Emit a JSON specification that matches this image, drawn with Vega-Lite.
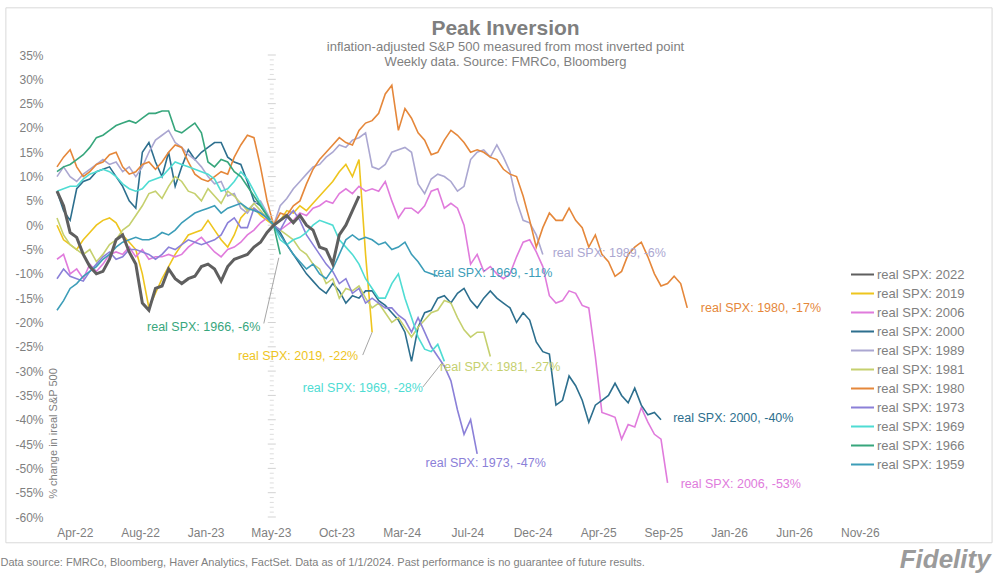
{
"$schema": "https://vega.github.io/schema/vega-lite/v6.json",
"width": 853, "height": 462,
"autosize": {"type": "none"},
"padding": {"left": 57, "top": 55, "right": 90, "bottom": 58},
"background": "white",
"config": {"view": {"stroke": null}, "font": "Liberation Sans"},
"title": {"text": "Peak Inversion", "subtitle": ["inflation-adjusted S&P 500 measured from most inverted point", "Weekly data.  Source: FMRCo, Bloomberg"], "anchor": "middle", "dx": 22, "offset": -61.5, "fontSize": 21, "fontWeight": "bold", "color": "#7F7F7F", "subtitleFontSize": 13, "subtitleColor": "#7F7F7F", "subtitlePadding": 2, "subtitleLineHeight": 15},
"datasets": {
"lines": [
{"s":"2022","d":"2022-02-25","v":7},{"s":"2022","d":"2022-03-11","v":4},{"s":"2022","d":"2022-03-25","v":-1.5},{"s":"2022","d":"2022-04-08","v":-2.5},{"s":"2022","d":"2022-04-22","v":-6},{"s":"2022","d":"2022-05-06","v":-8.5},{"s":"2022","d":"2022-05-20","v":-10},{"s":"2022","d":"2022-06-03","v":-9.5},{"s":"2022","d":"2022-06-17","v":-7},{"s":"2022","d":"2022-07-01","v":-3},{"s":"2022","d":"2022-07-15","v":-2},{"s":"2022","d":"2022-07-29","v":-5.5},{"s":"2022","d":"2022-08-12","v":-8},{"s":"2022","d":"2022-08-26","v":-16},{"s":"2022","d":"2022-09-09","v":-17.5},{"s":"2022","d":"2022-09-23","v":-13},{"s":"2022","d":"2022-10-07","v":-12.5},{"s":"2022","d":"2022-10-21","v":-9},{"s":"2022","d":"2022-11-04","v":-11},{"s":"2022","d":"2022-11-18","v":-12},{"s":"2022","d":"2022-12-02","v":-11},{"s":"2022","d":"2022-12-16","v":-10.5},{"s":"2022","d":"2022-12-30","v":-8.5},{"s":"2022","d":"2023-01-13","v":-8},{"s":"2022","d":"2023-01-27","v":-9},{"s":"2022","d":"2023-02-10","v":-11.5},{"s":"2022","d":"2023-02-24","v":-8.5},{"s":"2022","d":"2023-03-10","v":-7},{"s":"2022","d":"2023-03-24","v":-6.5},{"s":"2022","d":"2023-04-07","v":-6},{"s":"2022","d":"2023-04-21","v":-4.5},{"s":"2022","d":"2023-05-05","v":-3.5},{"s":"2022","d":"2023-05-19","v":-1.5},{"s":"2022","d":"2023-06-02","v":0},{"s":"2022","d":"2023-06-16","v":1},{"s":"2022","d":"2023-06-30","v":2},{"s":"2022","d":"2023-07-14","v":0.5},{"s":"2022","d":"2023-07-28","v":2},{"s":"2022","d":"2023-08-11","v":0},{"s":"2022","d":"2023-08-25","v":-1},{"s":"2022","d":"2023-09-08","v":-4.5},{"s":"2022","d":"2023-09-22","v":-5},{"s":"2022","d":"2023-10-06","v":-8},{"s":"2022","d":"2023-10-20","v":-2},{"s":"2022","d":"2023-11-03","v":0},{"s":"2022","d":"2023-11-17","v":3},{"s":"2022","d":"2023-12-01","v":6},
{"s":"2019","d":"2022-02-25","v":0},{"s":"2019","d":"2022-03-11","v":-3},{"s":"2019","d":"2022-03-25","v":-4},{"s":"2019","d":"2022-04-08","v":-5},{"s":"2019","d":"2022-04-22","v":-3},{"s":"2019","d":"2022-05-06","v":-1.5},{"s":"2019","d":"2022-05-20","v":0},{"s":"2019","d":"2022-06-03","v":1},{"s":"2019","d":"2022-06-17","v":1.5},{"s":"2019","d":"2022-07-01","v":0.5},{"s":"2019","d":"2022-07-15","v":-2},{"s":"2019","d":"2022-07-29","v":-3.5},{"s":"2019","d":"2022-08-12","v":-5},{"s":"2019","d":"2022-08-26","v":-10},{"s":"2019","d":"2022-09-09","v":-17},{"s":"2019","d":"2022-09-23","v":-14},{"s":"2019","d":"2022-10-07","v":-11},{"s":"2019","d":"2022-10-21","v":-8.5},{"s":"2019","d":"2022-11-04","v":-6},{"s":"2019","d":"2022-11-18","v":-4},{"s":"2019","d":"2022-12-02","v":-2},{"s":"2019","d":"2022-12-16","v":-1.5},{"s":"2019","d":"2022-12-30","v":-1},{"s":"2019","d":"2023-01-13","v":1},{"s":"2019","d":"2023-01-27","v":-1},{"s":"2019","d":"2023-02-10","v":-3},{"s":"2019","d":"2023-02-24","v":-4.5},{"s":"2019","d":"2023-03-10","v":-2},{"s":"2019","d":"2023-03-24","v":1.5},{"s":"2019","d":"2023-04-07","v":3},{"s":"2019","d":"2023-04-21","v":3.5},{"s":"2019","d":"2023-05-05","v":2},{"s":"2019","d":"2023-05-19","v":1},{"s":"2019","d":"2023-06-02","v":0},{"s":"2019","d":"2023-06-16","v":1},{"s":"2019","d":"2023-06-30","v":3},{"s":"2019","d":"2023-07-14","v":2.5},{"s":"2019","d":"2023-07-28","v":4},{"s":"2019","d":"2023-08-11","v":3},{"s":"2019","d":"2023-08-25","v":4.5},{"s":"2019","d":"2023-09-08","v":6},{"s":"2019","d":"2023-09-22","v":7.5},{"s":"2019","d":"2023-10-06","v":9},{"s":"2019","d":"2023-10-20","v":11},{"s":"2019","d":"2023-11-03","v":12.5},{"s":"2019","d":"2023-11-17","v":10},{"s":"2019","d":"2023-12-01","v":13.5},{"s":"2019","d":"2023-12-15","v":-6},{"s":"2019","d":"2023-12-29","v":-22},
{"s":"2006","d":"2022-02-25","v":-7},{"s":"2006","d":"2022-03-11","v":-6},{"s":"2006","d":"2022-03-25","v":-10},{"s":"2006","d":"2022-04-08","v":-9},{"s":"2006","d":"2022-04-22","v":-11},{"s":"2006","d":"2022-05-06","v":-8},{"s":"2006","d":"2022-05-20","v":-9.5},{"s":"2006","d":"2022-06-03","v":-8},{"s":"2006","d":"2022-06-17","v":-6},{"s":"2006","d":"2022-07-01","v":-5.5},{"s":"2006","d":"2022-07-15","v":-6},{"s":"2006","d":"2022-07-29","v":-4.5},{"s":"2006","d":"2022-08-12","v":-6.5},{"s":"2006","d":"2022-08-26","v":-5},{"s":"2006","d":"2022-09-09","v":-7},{"s":"2006","d":"2022-09-23","v":-6.5},{"s":"2006","d":"2022-10-07","v":-6.5},{"s":"2006","d":"2022-10-21","v":-6},{"s":"2006","d":"2022-11-04","v":-6.5},{"s":"2006","d":"2022-11-18","v":-6},{"s":"2006","d":"2022-12-02","v":-4.5},{"s":"2006","d":"2022-12-16","v":-3.5},{"s":"2006","d":"2022-12-30","v":-2.5},{"s":"2006","d":"2023-01-13","v":-4},{"s":"2006","d":"2023-01-27","v":-5.5},{"s":"2006","d":"2023-02-10","v":-6.5},{"s":"2006","d":"2023-02-24","v":-5},{"s":"2006","d":"2023-03-10","v":-4.5},{"s":"2006","d":"2023-03-24","v":-3.5},{"s":"2006","d":"2023-04-07","v":-2},{"s":"2006","d":"2023-04-21","v":-1},{"s":"2006","d":"2023-05-05","v":0.5},{"s":"2006","d":"2023-05-19","v":1.5},{"s":"2006","d":"2023-06-02","v":0},{"s":"2006","d":"2023-06-16","v":-1},{"s":"2006","d":"2023-06-30","v":0},{"s":"2006","d":"2023-07-14","v":1},{"s":"2006","d":"2023-07-28","v":2.5},{"s":"2006","d":"2023-08-11","v":2},{"s":"2006","d":"2023-08-25","v":3.5},{"s":"2006","d":"2023-09-08","v":4},{"s":"2006","d":"2023-09-22","v":5},{"s":"2006","d":"2023-10-06","v":4.5},{"s":"2006","d":"2023-10-20","v":6.5},{"s":"2006","d":"2023-11-03","v":7.5},{"s":"2006","d":"2023-11-17","v":6.5},{"s":"2006","d":"2023-12-01","v":8},{"s":"2006","d":"2023-12-15","v":7},{"s":"2006","d":"2023-12-29","v":7.5},{"s":"2006","d":"2024-01-12","v":7},{"s":"2006","d":"2024-01-26","v":9},{"s":"2006","d":"2024-02-09","v":5},{"s":"2006","d":"2024-02-23","v":1.5},{"s":"2006","d":"2024-03-08","v":3.5},{"s":"2006","d":"2024-03-22","v":3.5},{"s":"2006","d":"2024-04-05","v":2.5},{"s":"2006","d":"2024-04-19","v":4},{"s":"2006","d":"2024-05-03","v":7},{"s":"2006","d":"2024-05-17","v":7.5},{"s":"2006","d":"2024-05-31","v":3.5},{"s":"2006","d":"2024-06-14","v":4.5},{"s":"2006","d":"2024-06-28","v":3.5},{"s":"2006","d":"2024-07-12","v":0},{"s":"2006","d":"2024-07-26","v":-8},{"s":"2006","d":"2024-08-09","v":-6},{"s":"2006","d":"2024-08-23","v":-9.5},{"s":"2006","d":"2024-09-06","v":-8.5},{"s":"2006","d":"2024-09-20","v":-10},{"s":"2006","d":"2024-10-04","v":-11},{"s":"2006","d":"2024-10-18","v":-10},{"s":"2006","d":"2024-11-01","v":-6.5},{"s":"2006","d":"2024-11-15","v":-3.5},{"s":"2006","d":"2024-11-29","v":-3},{"s":"2006","d":"2024-12-13","v":-5.5},{"s":"2006","d":"2024-12-27","v":-8.5},{"s":"2006","d":"2025-01-10","v":-14.5},{"s":"2006","d":"2025-01-24","v":-16},{"s":"2006","d":"2025-02-07","v":-15.5},{"s":"2006","d":"2025-02-21","v":-13.5},{"s":"2006","d":"2025-03-07","v":-14},{"s":"2006","d":"2025-03-21","v":-16.5},{"s":"2006","d":"2025-04-04","v":-17},{"s":"2006","d":"2025-04-18","v":-27},{"s":"2006","d":"2025-05-02","v":-38.5},{"s":"2006","d":"2025-05-16","v":-39},{"s":"2006","d":"2025-05-30","v":-39.5},{"s":"2006","d":"2025-06-13","v":-44},{"s":"2006","d":"2025-06-27","v":-41},{"s":"2006","d":"2025-07-11","v":-41.5},{"s":"2006","d":"2025-07-25","v":-37.5},{"s":"2006","d":"2025-08-08","v":-40.5},{"s":"2006","d":"2025-08-22","v":-43},{"s":"2006","d":"2025-09-05","v":-44},{"s":"2006","d":"2025-09-19","v":-53},
{"s":"2000","d":"2022-02-25","v":7},{"s":"2000","d":"2022-03-11","v":3},{"s":"2000","d":"2022-03-25","v":1},{"s":"2000","d":"2022-04-08","v":7.5},{"s":"2000","d":"2022-04-22","v":9},{"s":"2000","d":"2022-05-06","v":9.5},{"s":"2000","d":"2022-05-20","v":11},{"s":"2000","d":"2022-06-03","v":11.5},{"s":"2000","d":"2022-06-17","v":12},{"s":"2000","d":"2022-07-01","v":10},{"s":"2000","d":"2022-07-15","v":8},{"s":"2000","d":"2022-07-29","v":5},{"s":"2000","d":"2022-08-12","v":3.5},{"s":"2000","d":"2022-08-26","v":15},{"s":"2000","d":"2022-09-09","v":17},{"s":"2000","d":"2022-09-23","v":13},{"s":"2000","d":"2022-10-07","v":10},{"s":"2000","d":"2022-10-21","v":15},{"s":"2000","d":"2022-11-04","v":8},{"s":"2000","d":"2022-11-18","v":12},{"s":"2000","d":"2022-12-02","v":15.5},{"s":"2000","d":"2022-12-16","v":13.5},{"s":"2000","d":"2022-12-30","v":15},{"s":"2000","d":"2023-01-13","v":16},{"s":"2000","d":"2023-01-27","v":17},{"s":"2000","d":"2023-02-10","v":17},{"s":"2000","d":"2023-02-24","v":14},{"s":"2000","d":"2023-03-10","v":13},{"s":"2000","d":"2023-03-24","v":12.5},{"s":"2000","d":"2023-04-07","v":9},{"s":"2000","d":"2023-04-21","v":5},{"s":"2000","d":"2023-05-05","v":4},{"s":"2000","d":"2023-05-19","v":2},{"s":"2000","d":"2023-06-02","v":0},{"s":"2000","d":"2023-06-16","v":-1.5},{"s":"2000","d":"2023-06-30","v":-4},{"s":"2000","d":"2023-07-14","v":-6},{"s":"2000","d":"2023-07-28","v":-8},{"s":"2000","d":"2023-08-11","v":-10},{"s":"2000","d":"2023-08-25","v":-11.5},{"s":"2000","d":"2023-09-08","v":-13},{"s":"2000","d":"2023-09-22","v":-14},{"s":"2000","d":"2023-10-06","v":-12},{"s":"2000","d":"2023-10-20","v":-13.5},{"s":"2000","d":"2023-11-03","v":-16},{"s":"2000","d":"2023-11-17","v":-14.5},{"s":"2000","d":"2023-12-01","v":-15},{"s":"2000","d":"2023-12-15","v":-13.5},{"s":"2000","d":"2023-12-29","v":-13.5},{"s":"2000","d":"2024-01-12","v":-15.5},{"s":"2000","d":"2024-01-26","v":-16.5},{"s":"2000","d":"2024-02-09","v":-18},{"s":"2000","d":"2024-02-23","v":-19.5},{"s":"2000","d":"2024-03-08","v":-22},{"s":"2000","d":"2024-03-22","v":-28},{"s":"2000","d":"2024-04-05","v":-21},{"s":"2000","d":"2024-04-19","v":-18},{"s":"2000","d":"2024-05-03","v":-17.5},{"s":"2000","d":"2024-05-17","v":-15},{"s":"2000","d":"2024-05-31","v":-14.5},{"s":"2000","d":"2024-06-14","v":-16},{"s":"2000","d":"2024-06-28","v":-14},{"s":"2000","d":"2024-07-12","v":-13},{"s":"2000","d":"2024-07-26","v":-15.5},{"s":"2000","d":"2024-08-09","v":-17},{"s":"2000","d":"2024-08-23","v":-15},{"s":"2000","d":"2024-09-06","v":-13.5},{"s":"2000","d":"2024-09-20","v":-15},{"s":"2000","d":"2024-10-04","v":-16},{"s":"2000","d":"2024-10-18","v":-17},{"s":"2000","d":"2024-11-01","v":-20},{"s":"2000","d":"2024-11-15","v":-18},{"s":"2000","d":"2024-11-29","v":-19.5},{"s":"2000","d":"2024-12-13","v":-24},{"s":"2000","d":"2024-12-27","v":-26},{"s":"2000","d":"2025-01-10","v":-26.5},{"s":"2000","d":"2025-01-24","v":-37},{"s":"2000","d":"2025-02-07","v":-36},{"s":"2000","d":"2025-02-21","v":-31},{"s":"2000","d":"2025-03-07","v":-33},{"s":"2000","d":"2025-03-21","v":-36},{"s":"2000","d":"2025-04-04","v":-40.5},{"s":"2000","d":"2025-04-18","v":-37},{"s":"2000","d":"2025-05-02","v":-36},{"s":"2000","d":"2025-05-16","v":-35},{"s":"2000","d":"2025-05-30","v":-32.5},{"s":"2000","d":"2025-06-13","v":-35},{"s":"2000","d":"2025-06-27","v":-36.5},{"s":"2000","d":"2025-07-11","v":-33.5},{"s":"2000","d":"2025-07-25","v":-37},{"s":"2000","d":"2025-08-08","v":-39},{"s":"2000","d":"2025-08-22","v":-38.5},{"s":"2000","d":"2025-09-05","v":-40},
{"s":"1989","d":"2022-02-25","v":10},{"s":"1989","d":"2022-03-11","v":12},{"s":"1989","d":"2022-03-25","v":10},{"s":"1989","d":"2022-04-08","v":9},{"s":"1989","d":"2022-04-22","v":10.5},{"s":"1989","d":"2022-05-06","v":11.5},{"s":"1989","d":"2022-05-20","v":12.5},{"s":"1989","d":"2022-06-03","v":13.5},{"s":"1989","d":"2022-06-17","v":12.5},{"s":"1989","d":"2022-07-01","v":13},{"s":"1989","d":"2022-07-15","v":11},{"s":"1989","d":"2022-07-29","v":12},{"s":"1989","d":"2022-08-12","v":10},{"s":"1989","d":"2022-08-26","v":12},{"s":"1989","d":"2022-09-09","v":15},{"s":"1989","d":"2022-09-23","v":17.5},{"s":"1989","d":"2022-10-07","v":18.5},{"s":"1989","d":"2022-10-21","v":19.5},{"s":"1989","d":"2022-11-04","v":17},{"s":"1989","d":"2022-11-18","v":16},{"s":"1989","d":"2022-12-02","v":14.5},{"s":"1989","d":"2022-12-16","v":13.5},{"s":"1989","d":"2022-12-30","v":12},{"s":"1989","d":"2023-01-13","v":10},{"s":"1989","d":"2023-01-27","v":8.5},{"s":"1989","d":"2023-02-10","v":9},{"s":"1989","d":"2023-02-24","v":6},{"s":"1989","d":"2023-03-10","v":6.5},{"s":"1989","d":"2023-03-24","v":3.5},{"s":"1989","d":"2023-04-07","v":2.5},{"s":"1989","d":"2023-04-21","v":4.5},{"s":"1989","d":"2023-05-05","v":5},{"s":"1989","d":"2023-05-19","v":2.5},{"s":"1989","d":"2023-06-02","v":0},{"s":"1989","d":"2023-06-16","v":4},{"s":"1989","d":"2023-06-30","v":5.5},{"s":"1989","d":"2023-07-14","v":7.5},{"s":"1989","d":"2023-07-28","v":9},{"s":"1989","d":"2023-08-11","v":10.5},{"s":"1989","d":"2023-08-25","v":12},{"s":"1989","d":"2023-09-08","v":12.5},{"s":"1989","d":"2023-09-22","v":14},{"s":"1989","d":"2023-10-06","v":15},{"s":"1989","d":"2023-10-20","v":16.5},{"s":"1989","d":"2023-11-03","v":16},{"s":"1989","d":"2023-11-17","v":17.5},{"s":"1989","d":"2023-12-01","v":18},{"s":"1989","d":"2023-12-15","v":19},{"s":"1989","d":"2023-12-29","v":12},{"s":"1989","d":"2024-01-12","v":11.5},{"s":"1989","d":"2024-01-26","v":12.5},{"s":"1989","d":"2024-02-09","v":15},{"s":"1989","d":"2024-02-23","v":15.5},{"s":"1989","d":"2024-03-08","v":16},{"s":"1989","d":"2024-03-22","v":15},{"s":"1989","d":"2024-04-05","v":8.5},{"s":"1989","d":"2024-04-19","v":6.5},{"s":"1989","d":"2024-05-03","v":9.5},{"s":"1989","d":"2024-05-17","v":10.5},{"s":"1989","d":"2024-05-31","v":10},{"s":"1989","d":"2024-06-14","v":9},{"s":"1989","d":"2024-06-28","v":7},{"s":"1989","d":"2024-07-12","v":8},{"s":"1989","d":"2024-07-26","v":13.5},{"s":"1989","d":"2024-08-09","v":15},{"s":"1989","d":"2024-08-23","v":15.5},{"s":"1989","d":"2024-09-06","v":14},{"s":"1989","d":"2024-09-20","v":16.5},{"s":"1989","d":"2024-10-04","v":14},{"s":"1989","d":"2024-10-18","v":11},{"s":"1989","d":"2024-11-01","v":5},{"s":"1989","d":"2024-11-15","v":1},{"s":"1989","d":"2024-11-29","v":0.5},{"s":"1989","d":"2024-12-13","v":-2},{"s":"1989","d":"2024-12-27","v":-6},
{"s":"1981","d":"2022-02-25","v":1.5},{"s":"1981","d":"2022-03-11","v":-2},{"s":"1981","d":"2022-03-25","v":-4},{"s":"1981","d":"2022-04-08","v":-5},{"s":"1981","d":"2022-04-22","v":-6},{"s":"1981","d":"2022-05-06","v":-5},{"s":"1981","d":"2022-05-20","v":-7.5},{"s":"1981","d":"2022-06-03","v":-6},{"s":"1981","d":"2022-06-17","v":-4},{"s":"1981","d":"2022-07-01","v":-3},{"s":"1981","d":"2022-07-15","v":-1},{"s":"1981","d":"2022-07-29","v":0},{"s":"1981","d":"2022-08-12","v":2},{"s":"1981","d":"2022-08-26","v":4},{"s":"1981","d":"2022-09-09","v":6.5},{"s":"1981","d":"2022-09-23","v":7},{"s":"1981","d":"2022-10-07","v":5.5},{"s":"1981","d":"2022-10-21","v":8},{"s":"1981","d":"2022-11-04","v":10},{"s":"1981","d":"2022-11-18","v":9},{"s":"1981","d":"2022-12-02","v":7},{"s":"1981","d":"2022-12-16","v":6.5},{"s":"1981","d":"2022-12-30","v":5},{"s":"1981","d":"2023-01-13","v":7.5},{"s":"1981","d":"2023-01-27","v":6},{"s":"1981","d":"2023-02-10","v":4.5},{"s":"1981","d":"2023-02-24","v":7},{"s":"1981","d":"2023-03-10","v":6},{"s":"1981","d":"2023-03-24","v":4.5},{"s":"1981","d":"2023-04-07","v":3},{"s":"1981","d":"2023-04-21","v":4.5},{"s":"1981","d":"2023-05-05","v":3},{"s":"1981","d":"2023-05-19","v":1.5},{"s":"1981","d":"2023-06-02","v":0},{"s":"1981","d":"2023-06-16","v":-1},{"s":"1981","d":"2023-06-30","v":-2},{"s":"1981","d":"2023-07-14","v":-3},{"s":"1981","d":"2023-07-28","v":-5},{"s":"1981","d":"2023-08-11","v":-6},{"s":"1981","d":"2023-08-25","v":-8},{"s":"1981","d":"2023-09-08","v":-9},{"s":"1981","d":"2023-09-22","v":-12},{"s":"1981","d":"2023-10-06","v":-11},{"s":"1981","d":"2023-10-20","v":-15},{"s":"1981","d":"2023-11-03","v":-13},{"s":"1981","d":"2023-11-17","v":-13.5},{"s":"1981","d":"2023-12-01","v":-12.5},{"s":"1981","d":"2023-12-15","v":-15},{"s":"1981","d":"2023-12-29","v":-17},{"s":"1981","d":"2024-01-12","v":-16},{"s":"1981","d":"2024-01-26","v":-18},{"s":"1981","d":"2024-02-09","v":-20},{"s":"1981","d":"2024-02-23","v":-19},{"s":"1981","d":"2024-03-08","v":-21},{"s":"1981","d":"2024-03-22","v":-23},{"s":"1981","d":"2024-04-05","v":-21},{"s":"1981","d":"2024-04-19","v":-19.5},{"s":"1981","d":"2024-05-03","v":-18},{"s":"1981","d":"2024-05-17","v":-17.5},{"s":"1981","d":"2024-05-31","v":-15.5},{"s":"1981","d":"2024-06-14","v":-16},{"s":"1981","d":"2024-06-28","v":-19},{"s":"1981","d":"2024-07-12","v":-21.5},{"s":"1981","d":"2024-07-26","v":-23},{"s":"1981","d":"2024-08-09","v":-22},{"s":"1981","d":"2024-08-23","v":-22},{"s":"1981","d":"2024-09-06","v":-27},
{"s":"1980","d":"2022-02-25","v":12},{"s":"1980","d":"2022-03-11","v":14},{"s":"1980","d":"2022-03-25","v":15.5},{"s":"1980","d":"2022-04-08","v":12},{"s":"1980","d":"2022-04-22","v":10},{"s":"1980","d":"2022-05-06","v":11},{"s":"1980","d":"2022-05-20","v":12.5},{"s":"1980","d":"2022-06-03","v":13},{"s":"1980","d":"2022-06-17","v":14.5},{"s":"1980","d":"2022-07-01","v":15},{"s":"1980","d":"2022-07-15","v":12},{"s":"1980","d":"2022-07-29","v":10.5},{"s":"1980","d":"2022-08-12","v":11},{"s":"1980","d":"2022-08-26","v":12.5},{"s":"1980","d":"2022-09-09","v":13},{"s":"1980","d":"2022-09-23","v":11.5},{"s":"1980","d":"2022-10-07","v":13},{"s":"1980","d":"2022-10-21","v":15},{"s":"1980","d":"2022-11-04","v":16.5},{"s":"1980","d":"2022-11-18","v":16},{"s":"1980","d":"2022-12-02","v":13},{"s":"1980","d":"2022-12-16","v":10.5},{"s":"1980","d":"2022-12-30","v":9.5},{"s":"1980","d":"2023-01-13","v":9},{"s":"1980","d":"2023-01-27","v":10},{"s":"1980","d":"2023-02-10","v":11},{"s":"1980","d":"2023-02-24","v":10.5},{"s":"1980","d":"2023-03-10","v":14},{"s":"1980","d":"2023-03-24","v":16.5},{"s":"1980","d":"2023-04-07","v":18.5},{"s":"1980","d":"2023-04-21","v":18},{"s":"1980","d":"2023-05-05","v":12},{"s":"1980","d":"2023-05-19","v":5},{"s":"1980","d":"2023-06-02","v":0},{"s":"1980","d":"2023-06-16","v":2.5},{"s":"1980","d":"2023-06-30","v":2},{"s":"1980","d":"2023-07-14","v":4},{"s":"1980","d":"2023-07-28","v":5},{"s":"1980","d":"2023-08-11","v":8.5},{"s":"1980","d":"2023-08-25","v":11.5},{"s":"1980","d":"2023-09-08","v":13.5},{"s":"1980","d":"2023-09-22","v":15},{"s":"1980","d":"2023-10-06","v":16.5},{"s":"1980","d":"2023-10-20","v":18},{"s":"1980","d":"2023-11-03","v":17},{"s":"1980","d":"2023-11-17","v":16.5},{"s":"1980","d":"2023-12-01","v":19.5},{"s":"1980","d":"2023-12-15","v":21},{"s":"1980","d":"2023-12-29","v":21.5},{"s":"1980","d":"2024-01-12","v":23},{"s":"1980","d":"2024-01-26","v":27},{"s":"1980","d":"2024-02-09","v":28.8},{"s":"1980","d":"2024-02-23","v":19.5},{"s":"1980","d":"2024-03-08","v":24},{"s":"1980","d":"2024-03-22","v":22},{"s":"1980","d":"2024-04-05","v":19},{"s":"1980","d":"2024-04-19","v":17.5},{"s":"1980","d":"2024-05-03","v":14.5},{"s":"1980","d":"2024-05-17","v":15},{"s":"1980","d":"2024-05-31","v":17.5},{"s":"1980","d":"2024-06-14","v":19.5},{"s":"1980","d":"2024-06-28","v":18.5},{"s":"1980","d":"2024-07-12","v":17},{"s":"1980","d":"2024-07-26","v":15},{"s":"1980","d":"2024-08-09","v":15.5},{"s":"1980","d":"2024-08-23","v":15},{"s":"1980","d":"2024-09-06","v":14},{"s":"1980","d":"2024-09-20","v":13.5},{"s":"1980","d":"2024-10-04","v":11.5},{"s":"1980","d":"2024-10-18","v":10.5},{"s":"1980","d":"2024-11-01","v":10},{"s":"1980","d":"2024-11-15","v":6},{"s":"1980","d":"2024-11-29","v":1},{"s":"1980","d":"2024-12-13","v":-4.5},{"s":"1980","d":"2024-12-27","v":-0.5},{"s":"1980","d":"2025-01-10","v":2.5},{"s":"1980","d":"2025-01-24","v":1},{"s":"1980","d":"2025-02-07","v":1},{"s":"1980","d":"2025-02-21","v":3.5},{"s":"1980","d":"2025-03-07","v":1},{"s":"1980","d":"2025-03-21","v":-0.5},{"s":"1980","d":"2025-04-04","v":-4.5},{"s":"1980","d":"2025-04-18","v":-2},{"s":"1980","d":"2025-05-02","v":-6},{"s":"1980","d":"2025-05-16","v":-7.5},{"s":"1980","d":"2025-05-30","v":-10.5},{"s":"1980","d":"2025-06-13","v":-9.5},{"s":"1980","d":"2025-06-27","v":-6},{"s":"1980","d":"2025-07-11","v":-4.5},{"s":"1980","d":"2025-07-25","v":-3.5},{"s":"1980","d":"2025-08-08","v":-6.5},{"s":"1980","d":"2025-08-22","v":-10},{"s":"1980","d":"2025-09-05","v":-12.5},{"s":"1980","d":"2025-09-19","v":-12},{"s":"1980","d":"2025-10-03","v":-10.5},{"s":"1980","d":"2025-10-17","v":-12},{"s":"1980","d":"2025-10-31","v":-17},
{"s":"1973","d":"2022-02-25","v":-11},{"s":"1973","d":"2022-03-11","v":-9},{"s":"1973","d":"2022-03-25","v":-10.5},{"s":"1973","d":"2022-04-08","v":-11},{"s":"1973","d":"2022-04-22","v":-11.5},{"s":"1973","d":"2022-05-06","v":-9.5},{"s":"1973","d":"2022-05-20","v":-8},{"s":"1973","d":"2022-06-03","v":-6.5},{"s":"1973","d":"2022-06-17","v":-5.5},{"s":"1973","d":"2022-07-01","v":-7},{"s":"1973","d":"2022-07-15","v":-6.5},{"s":"1973","d":"2022-07-29","v":-5},{"s":"1973","d":"2022-08-12","v":-5},{"s":"1973","d":"2022-08-26","v":-5.5},{"s":"1973","d":"2022-09-09","v":-6},{"s":"1973","d":"2022-09-23","v":-7},{"s":"1973","d":"2022-10-07","v":-6},{"s":"1973","d":"2022-10-21","v":-4.5},{"s":"1973","d":"2022-11-04","v":-5},{"s":"1973","d":"2022-11-18","v":-4},{"s":"1973","d":"2022-12-02","v":-3},{"s":"1973","d":"2022-12-16","v":-3.5},{"s":"1973","d":"2022-12-30","v":-4},{"s":"1973","d":"2023-01-13","v":-3.5},{"s":"1973","d":"2023-01-27","v":-3},{"s":"1973","d":"2023-02-10","v":-2},{"s":"1973","d":"2023-02-24","v":0.5},{"s":"1973","d":"2023-03-10","v":1.5},{"s":"1973","d":"2023-03-24","v":-0.5},{"s":"1973","d":"2023-04-07","v":-0.5},{"s":"1973","d":"2023-04-21","v":3.5},{"s":"1973","d":"2023-05-05","v":2.5},{"s":"1973","d":"2023-05-19","v":1.5},{"s":"1973","d":"2023-06-02","v":0},{"s":"1973","d":"2023-06-16","v":-1},{"s":"1973","d":"2023-06-30","v":1.5},{"s":"1973","d":"2023-07-14","v":3},{"s":"1973","d":"2023-07-28","v":1},{"s":"1973","d":"2023-08-11","v":-2},{"s":"1973","d":"2023-08-25","v":-4},{"s":"1973","d":"2023-09-08","v":-6},{"s":"1973","d":"2023-09-22","v":-8},{"s":"1973","d":"2023-10-06","v":-9.5},{"s":"1973","d":"2023-10-20","v":-12},{"s":"1973","d":"2023-11-03","v":-11},{"s":"1973","d":"2023-11-17","v":-14},{"s":"1973","d":"2023-12-01","v":-13},{"s":"1973","d":"2023-12-15","v":-16},{"s":"1973","d":"2023-12-29","v":-15},{"s":"1973","d":"2024-01-12","v":-16},{"s":"1973","d":"2024-01-26","v":-17},{"s":"1973","d":"2024-02-09","v":-17},{"s":"1973","d":"2024-02-23","v":-18.5},{"s":"1973","d":"2024-03-08","v":-19.5},{"s":"1973","d":"2024-03-22","v":-22},{"s":"1973","d":"2024-04-05","v":-19},{"s":"1973","d":"2024-04-19","v":-22},{"s":"1973","d":"2024-05-03","v":-25},{"s":"1973","d":"2024-05-17","v":-27},{"s":"1973","d":"2024-05-31","v":-29},{"s":"1973","d":"2024-06-14","v":-32},{"s":"1973","d":"2024-06-28","v":-38},{"s":"1973","d":"2024-07-12","v":-43},{"s":"1973","d":"2024-07-26","v":-40},{"s":"1973","d":"2024-08-09","v":-47},
{"s":"1969","d":"2022-02-25","v":7},{"s":"1969","d":"2022-03-11","v":7.5},{"s":"1969","d":"2022-03-25","v":8},{"s":"1969","d":"2022-04-08","v":8},{"s":"1969","d":"2022-04-22","v":9.5},{"s":"1969","d":"2022-05-06","v":10.5},{"s":"1969","d":"2022-05-20","v":11},{"s":"1969","d":"2022-06-03","v":11.5},{"s":"1969","d":"2022-06-17","v":11},{"s":"1969","d":"2022-07-01","v":10},{"s":"1969","d":"2022-07-15","v":8.5},{"s":"1969","d":"2022-07-29","v":7.5},{"s":"1969","d":"2022-08-12","v":7},{"s":"1969","d":"2022-08-26","v":7.5},{"s":"1969","d":"2022-09-09","v":9},{"s":"1969","d":"2022-09-23","v":9.5},{"s":"1969","d":"2022-10-07","v":10},{"s":"1969","d":"2022-10-21","v":11.5},{"s":"1969","d":"2022-11-04","v":13},{"s":"1969","d":"2022-11-18","v":12.5},{"s":"1969","d":"2022-12-02","v":12},{"s":"1969","d":"2022-12-16","v":11.5},{"s":"1969","d":"2022-12-30","v":11},{"s":"1969","d":"2023-01-13","v":10.5},{"s":"1969","d":"2023-01-27","v":9.5},{"s":"1969","d":"2023-02-10","v":7},{"s":"1969","d":"2023-02-24","v":7.5},{"s":"1969","d":"2023-03-10","v":9},{"s":"1969","d":"2023-03-24","v":11},{"s":"1969","d":"2023-04-07","v":9.5},{"s":"1969","d":"2023-04-21","v":7},{"s":"1969","d":"2023-05-05","v":4.5},{"s":"1969","d":"2023-05-19","v":2},{"s":"1969","d":"2023-06-02","v":0},{"s":"1969","d":"2023-06-16","v":-3},{"s":"1969","d":"2023-06-30","v":-4},{"s":"1969","d":"2023-07-14","v":-3},{"s":"1969","d":"2023-07-28","v":-2.5},{"s":"1969","d":"2023-08-11","v":-1.5},{"s":"1969","d":"2023-08-25","v":0},{"s":"1969","d":"2023-09-08","v":1},{"s":"1969","d":"2023-09-22","v":0.5},{"s":"1969","d":"2023-10-06","v":0},{"s":"1969","d":"2023-10-20","v":-3},{"s":"1969","d":"2023-11-03","v":-4.5},{"s":"1969","d":"2023-11-17","v":-6},{"s":"1969","d":"2023-12-01","v":-8},{"s":"1969","d":"2023-12-15","v":-11},{"s":"1969","d":"2023-12-29","v":-13},{"s":"1969","d":"2024-01-12","v":-15},{"s":"1969","d":"2024-01-26","v":-15},{"s":"1969","d":"2024-02-09","v":-12},{"s":"1969","d":"2024-02-23","v":-10},{"s":"1969","d":"2024-03-08","v":-15},{"s":"1969","d":"2024-03-22","v":-19},{"s":"1969","d":"2024-04-05","v":-23},{"s":"1969","d":"2024-04-19","v":-25.5},{"s":"1969","d":"2024-05-03","v":-26},{"s":"1969","d":"2024-05-17","v":-24.5},{"s":"1969","d":"2024-05-31","v":-28},
{"s":"1966","d":"2022-02-25","v":11},{"s":"1966","d":"2022-03-11","v":12},{"s":"1966","d":"2022-03-25","v":12.5},{"s":"1966","d":"2022-04-08","v":13.5},{"s":"1966","d":"2022-04-22","v":14.5},{"s":"1966","d":"2022-05-06","v":16},{"s":"1966","d":"2022-05-20","v":18},{"s":"1966","d":"2022-06-03","v":18.5},{"s":"1966","d":"2022-06-17","v":19.5},{"s":"1966","d":"2022-07-01","v":20.5},{"s":"1966","d":"2022-07-15","v":21},{"s":"1966","d":"2022-07-29","v":21.5},{"s":"1966","d":"2022-08-12","v":21},{"s":"1966","d":"2022-08-26","v":22},{"s":"1966","d":"2022-09-09","v":23},{"s":"1966","d":"2022-09-23","v":23},{"s":"1966","d":"2022-10-07","v":23.5},{"s":"1966","d":"2022-10-21","v":23.5},{"s":"1966","d":"2022-11-04","v":19.5},{"s":"1966","d":"2022-11-18","v":19},{"s":"1966","d":"2022-12-02","v":20},{"s":"1966","d":"2022-12-16","v":21},{"s":"1966","d":"2022-12-30","v":19},{"s":"1966","d":"2023-01-13","v":13},{"s":"1966","d":"2023-01-27","v":12},{"s":"1966","d":"2023-02-10","v":13.5},{"s":"1966","d":"2023-02-24","v":13},{"s":"1966","d":"2023-03-10","v":11},{"s":"1966","d":"2023-03-24","v":10},{"s":"1966","d":"2023-04-07","v":8},{"s":"1966","d":"2023-04-21","v":6},{"s":"1966","d":"2023-05-05","v":4},{"s":"1966","d":"2023-05-19","v":2},{"s":"1966","d":"2023-06-02","v":0},{"s":"1966","d":"2023-06-16","v":-6},
{"s":"1959","d":"2022-02-25","v":-17.5},{"s":"1959","d":"2022-03-11","v":-15.5},{"s":"1959","d":"2022-03-25","v":-13},{"s":"1959","d":"2022-04-08","v":-12},{"s":"1959","d":"2022-04-22","v":-10.5},{"s":"1959","d":"2022-05-06","v":-9.5},{"s":"1959","d":"2022-05-20","v":-8.5},{"s":"1959","d":"2022-06-03","v":-7},{"s":"1959","d":"2022-06-17","v":-6},{"s":"1959","d":"2022-07-01","v":-4.5},{"s":"1959","d":"2022-07-15","v":-3.5},{"s":"1959","d":"2022-07-29","v":-3},{"s":"1959","d":"2022-08-12","v":-2.5},{"s":"1959","d":"2022-08-26","v":-3},{"s":"1959","d":"2022-09-09","v":-3},{"s":"1959","d":"2022-09-23","v":-2.5},{"s":"1959","d":"2022-10-07","v":-1.5},{"s":"1959","d":"2022-10-21","v":-2},{"s":"1959","d":"2022-11-04","v":-1},{"s":"1959","d":"2022-11-18","v":0.5},{"s":"1959","d":"2022-12-02","v":1.5},{"s":"1959","d":"2022-12-16","v":2.5},{"s":"1959","d":"2022-12-30","v":3},{"s":"1959","d":"2023-01-13","v":3.5},{"s":"1959","d":"2023-01-27","v":4},{"s":"1959","d":"2023-02-10","v":2.5},{"s":"1959","d":"2023-02-24","v":3.5},{"s":"1959","d":"2023-03-10","v":4},{"s":"1959","d":"2023-03-24","v":4.5},{"s":"1959","d":"2023-04-07","v":3.5},{"s":"1959","d":"2023-04-21","v":3},{"s":"1959","d":"2023-05-05","v":2.5},{"s":"1959","d":"2023-05-19","v":1.5},{"s":"1959","d":"2023-06-02","v":0},{"s":"1959","d":"2023-06-16","v":-2},{"s":"1959","d":"2023-06-30","v":-4},{"s":"1959","d":"2023-07-14","v":-6},{"s":"1959","d":"2023-07-28","v":-7.5},{"s":"1959","d":"2023-08-11","v":-9},{"s":"1959","d":"2023-08-25","v":-8},{"s":"1959","d":"2023-09-08","v":-10},{"s":"1959","d":"2023-09-22","v":-11},{"s":"1959","d":"2023-10-06","v":-9},{"s":"1959","d":"2023-10-20","v":-6},{"s":"1959","d":"2023-11-03","v":-3},{"s":"1959","d":"2023-11-17","v":-2},{"s":"1959","d":"2023-12-01","v":-3},{"s":"1959","d":"2023-12-15","v":-2.5},{"s":"1959","d":"2023-12-29","v":-3},{"s":"1959","d":"2024-01-12","v":-4},{"s":"1959","d":"2024-01-26","v":-3.5},{"s":"1959","d":"2024-02-09","v":-5},{"s":"1959","d":"2024-02-23","v":-4.5},{"s":"1959","d":"2024-03-08","v":-3.5},{"s":"1959","d":"2024-03-22","v":-6},{"s":"1959","d":"2024-04-05","v":-7.5},{"s":"1959","d":"2024-04-19","v":-9.5},{"s":"1959","d":"2024-05-03","v":-10},{"s":"1959","d":"2024-05-17","v":-10.5}
],
"labels": [
{"s":"1966","t":"real SPX: 1966, -6%","d":"2022-09-05","v":-20.9},
{"s":"2019","t":"real SPX: 2019, -22%","d":"2023-03-18","v":-26.9},
{"s":"1969","t":"real SPX: 1969, -28%","d":"2023-08-03","v":-33.5},
{"s":"1981","t":"real SPX: 1981, -27%","d":"2024-05-22","v":-29.2},
{"s":"1973","t":"real SPX: 1973, -47%","d":"2024-04-21","v":-48.8},
{"s":"1959","t":"real SPX: 1969, -11%","d":"2024-05-07","v":-9.8},
{"s":"1989","t":"real SPX: 1989, -6%","d":"2025-01-17","v":-5.7},
{"s":"1980","t":"real SPX: 1980, -17%","d":"2025-11-29","v":-17.1},
{"s":"2000","t":"real SPX: 2000, -40%","d":"2025-10-01","v":-39.7},
{"s":"2006","t":"real SPX: 2006, -53%","d":"2025-10-17","v":-53.2}
],
"leaders": [
{"d":"2023-05-12","v":-20.2,"d2":"2023-06-13","v2":-6.7},
{"d":"2023-12-09","v":-26.7,"d2":"2023-12-29","v2":-22},
{"d":"2024-04-15","v":-33.3,"d2":"2024-05-26","v2":-28.3}
],
"ticks": [{"v":-60},{"v":-55},{"v":-50},{"v":-45},{"v":-40},{"v":-35},{"v":-30},{"v":-25},{"v":-20},{"v":-15},{"v":-10},{"v":-5},{"v":0},{"v":5},{"v":10},{"v":15},{"v":20},{"v":25},{"v":30},{"v":35}],
"minor": [{"v":-59},{"v":-58},{"v":-57},{"v":-56},{"v":-54},{"v":-53},{"v":-52},{"v":-51},{"v":-49},{"v":-48},{"v":-47},{"v":-46},{"v":-44},{"v":-43},{"v":-42},{"v":-41},{"v":-39},{"v":-38},{"v":-37},{"v":-36},{"v":-34},{"v":-33},{"v":-32},{"v":-31},{"v":-29},{"v":-28},{"v":-27},{"v":-26},{"v":-24},{"v":-23},{"v":-22},{"v":-21},{"v":-19},{"v":-18},{"v":-17},{"v":-16},{"v":-14},{"v":-13},{"v":-12},{"v":-11},{"v":-9},{"v":-8},{"v":-7},{"v":-6},{"v":-4},{"v":-3},{"v":-2},{"v":-1},{"v":1},{"v":2},{"v":3},{"v":4},{"v":6},{"v":7},{"v":8},{"v":9},{"v":11},{"v":12},{"v":13},{"v":14},{"v":16},{"v":17},{"v":18},{"v":19},{"v":21},{"v":22},{"v":23},{"v":24},{"v":26},{"v":27},{"v":28},{"v":29},{"v":31},{"v":32},{"v":33},{"v":34}]
},
"layer": [
{"data": {"name": "lines"},
 "transform": [{"filter": "datum.s != '2022'"}],
 "mark": {"type": "line", "strokeWidth": 1.6},
 "encoding": {
   "x": {"field": "d", "type": "temporal",
     "scale": {"type": "utc", "domain": [{"year": 2022, "month": 2, "date": 25, "utc": true}, {"year": 2027, "month": 2, "date": 18, "utc": true}]},
     "axis": {"values": [{"year":2022,"month":4,"date":4,"utc":true},{"year":2022,"month":8,"date":21,"utc":true},{"year":2023,"month":1,"date":8,"utc":true},{"year":2023,"month":5,"date":27,"utc":true},{"year":2023,"month":10,"date":14,"utc":true},{"year":2024,"month":3,"date":1,"utc":true},{"year":2024,"month":7,"date":19,"utc":true},{"year":2024,"month":12,"date":5,"utc":true},{"year":2025,"month":4,"date":24,"utc":true},{"year":2025,"month":9,"date":10,"utc":true},{"year":2026,"month":1,"date":28,"utc":true},{"year":2026,"month":6,"date":16,"utc":true},{"year":2026,"month":11,"date":3,"utc":true}],
       "format": "%b-%y", "labelFontSize": 12, "labelColor": "#7F7F7F", "domain": false, "ticks": false, "grid": false, "labelPadding": 10, "labelFlush": false, "labelOverlap": false,
       "title": "Data source: FMRCo, Bloomberg, Haver Analytics, FactSet. Data as of 1/1/2024. Past performance is no guarantee of future results.", "titleX": -57, "titleY": 45, "titleAlign": "left", "titleBaseline": "middle", "titleFontSize": 11, "titleFontWeight": "normal", "titleColor": "#7F7F7F"}},
   "y": {"field": "v", "type": "quantitative",
     "scale": {"domain": [-60, 35], "nice": false, "zero": false},
     "axis": {"values": [-60,-55,-50,-45,-40,-35,-30,-25,-20,-15,-10,-5,0,5,10,15,20,25,30,35], "tickCount": 20, "labelExpr": "datum.value + '%'", "labelOverlap": false, "labelBound": false, "domain": false, "ticks": false, "grid": false, "labelPadding": 14, "labelFontSize": 12, "labelColor": "#7F7F7F", "title": "% change in ireal S&P 500", "titleX": -4, "titleY": 378, "titleAngle": -90, "titleAlign": "center", "titleBaseline": "middle", "titleFontSize": 11, "titleFontWeight": "normal", "titleColor": "#7F7F7F"}},
   "color": {"field": "s", "type": "nominal",
     "scale": {"domain": ["2022","2019","2006","2000","1989","1981","1980","1973","1969","1966","1959"], "range": ["#5F5F5F","#EEC51E","#E07BDC","#2D6F8E","#ABA7D1","#C5D06E","#E5873A","#8B80D8","#4FDCD3","#37A67C","#3C9DB8"]},
     "legend": {"orient": "none", "legendX": 793, "legendY": 210, "title": null, "padding": 0, "symbolType": "stroke", "symbolSize": 529, "symbolStrokeWidth": 2, "labelFontSize": 13, "labelColor": "#7F7F7F", "labelOffset": 2, "rowPadding": 0, "clipHeight": 19, "labelExpr": "'real SPX: ' + datum.label"}}}},
{"mark": {"type": "rule", "color": "#BFBFBF", "strokeDash": [5, 4], "strokeWidth": 1},
 "encoding": {"y": {"datum": 0, "type": "quantitative"}}},
{"mark": {"type": "rule", "color": "#BFBFBF", "strokeWidth": 1},
 "encoding": {"x": {"datum": {"year": 2023, "month": 5, "date": 29, "utc": true}, "type": "temporal"}}},
{"data": {"name": "ticks"},
 "mark": {"type": "tick", "orient": "horizontal", "size": 8, "thickness": 1, "color": "#BFBFBF"},
 "encoding": {"x": {"datum": {"year": 2023, "month": 5, "date": 29, "utc": true}, "type": "temporal"}, "y": {"field": "v", "type": "quantitative"}}},
{"data": {"name": "minor"},
 "mark": {"type": "tick", "orient": "horizontal", "size": 4, "thickness": 1, "color": "#CFCFCF"},
 "encoding": {"x": {"datum": {"year": 2023, "month": 5, "date": 29, "utc": true}, "type": "temporal"}, "y": {"field": "v", "type": "quantitative"}}},
{"data": {"name": "lines"},
 "transform": [{"filter": "datum.s == '2022'"}],
 "mark": {"type": "line", "strokeWidth": 3},
 "encoding": {"x": {"field": "d", "type": "temporal"}, "y": {"field": "v", "type": "quantitative"}, "color": {"field": "s", "type": "nominal"}}},
{"data": {"name": "leaders"},
 "mark": {"type": "rule", "color": "#A6A6A6", "strokeWidth": 1},
 "encoding": {"x": {"field": "d", "type": "temporal"}, "x2": {"field": "d2"}, "y": {"field": "v", "type": "quantitative"}, "y2": {"field": "v2"}}},
{"data": {"name": "labels"},
 "mark": {"type": "text", "align": "left", "baseline": "middle", "fontSize": 12.5},
 "encoding": {"x": {"field": "d", "type": "temporal"}, "y": {"field": "v", "type": "quantitative"}, "text": {"field": "t"}, "color": {"field": "s", "type": "nominal"}}},
{"data": {"values": [{}]},
 "mark": {"type": "text", "fontSize": 26, "fontStyle": "italic", "fontWeight": "bold", "color": "#9B9B9B", "clip": false},
 "encoding": {"x": {"datum": {"year": 2027, "month": 5, "date": 4, "utc": true}, "type": "temporal"}, "y": {"datum": -68.8, "type": "quantitative"}, "text": {"value": "Fidelity"}}},
{"data": {"values": [{}]},
 "mark": {"type": "rect", "fill": "transparent", "stroke": "#D9D9D9", "strokeWidth": 1, "clip": false},
 "encoding": {"x": {"datum": {"year": 2021, "month": 11, "date": 8, "utc": true}, "type": "temporal"}, "x2": {"datum": {"year": 2027, "month": 8, "date": 12, "utc": true}}, "y": {"datum": 44.7, "type": "quantitative"}, "y2": {"datum": -65.3}}}
]
}
